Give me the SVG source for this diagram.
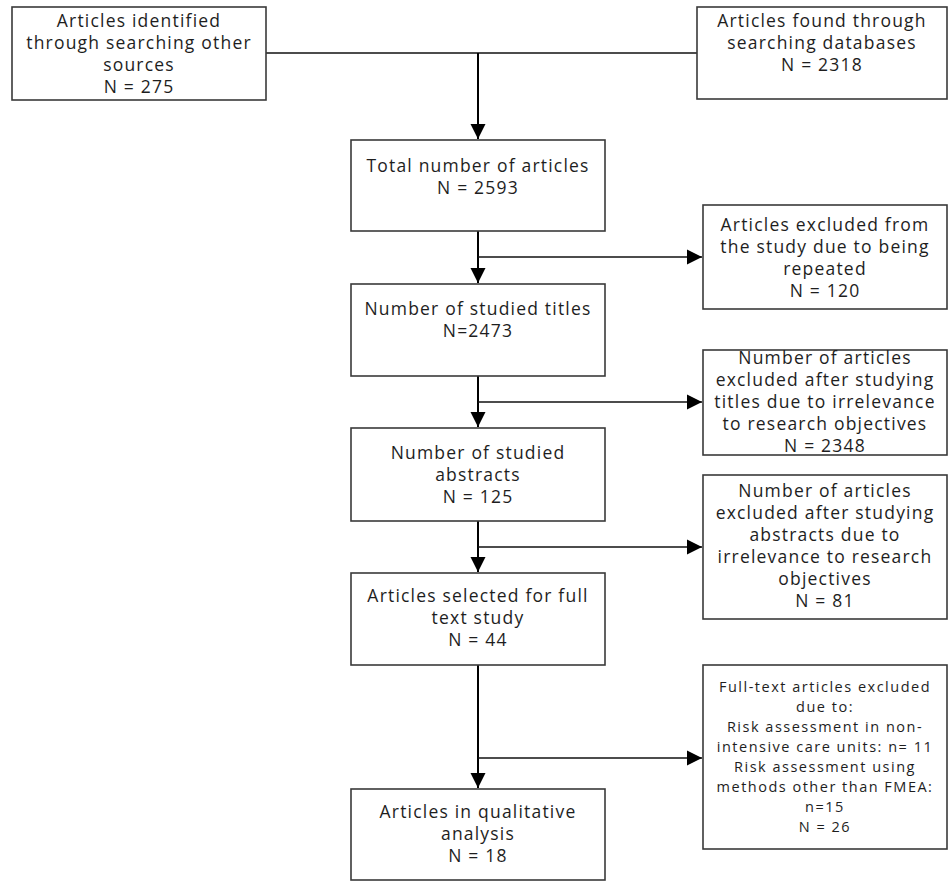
<svg xmlns="http://www.w3.org/2000/svg" width="948" height="881" viewBox="0 0 948 881">
  <defs>
    <style>
      .box { fill: #ffffff; stroke: #3a3a3a; stroke-width: 1.6; }
      .t { font-family: "Open Sans", "Liberation Sans", sans-serif; font-size: 17.5px; letter-spacing: 1.2px; fill: #1e1e1e; text-anchor: middle; }
      .ts { font-family: "Open Sans", "Liberation Sans", sans-serif; font-size: 14.5px; letter-spacing: 1.5px; fill: #1e1e1e; text-anchor: middle; }
      .v { fill: none; stroke: #000000; stroke-width: 2; }
      .h { fill: none; stroke: #111111; stroke-width: 1.6; }
    </style>
    <marker id="arr" markerUnits="userSpaceOnUse" markerWidth="16" markerHeight="16" viewBox="0 0 16 16" refX="15" refY="8" orient="auto">
      <path d="M0,0.5 L15,8 L0,15.5 Z" fill="#000000"/>
    </marker>
  </defs>
  <rect width="948" height="881" fill="#ffffff"/>

  <g id="connectors">
    <path class="h" d="M266,53 H697"/>
    <path class="v" d="M478,53 V139" marker-end="url(#arr)"/>
    <path class="v" d="M478,231 V283" marker-end="url(#arr)"/>
    <path class="h" d="M478,257 H702" marker-end="url(#arr)"/>
    <path class="v" d="M478,376 V427" marker-end="url(#arr)"/>
    <path class="h" d="M478,402 H702" marker-end="url(#arr)"/>
    <path class="v" d="M478,521 V572" marker-end="url(#arr)"/>
    <path class="h" d="M478,547 H702" marker-end="url(#arr)"/>
    <path class="v" d="M478,665 V788" marker-end="url(#arr)"/>
    <path class="h" d="M478,758 H702" marker-end="url(#arr)"/>
  </g>

  <g id="other-sources">
    <rect class="box" x="12" y="7" width="254" height="93"/>
    <text class="t" x="139" y="27">Articles identified</text>
    <text class="t" x="139" y="49">through searching other</text>
    <text class="t" x="139" y="71">sources</text>
    <text class="t" x="139" y="93">N = 275</text>
  </g>

  <g id="databases">
    <rect class="box" x="697" y="7" width="250" height="92"/>
    <text class="t" x="822" y="27">Articles found through</text>
    <text class="t" x="822" y="49">searching databases</text>
    <text class="t" x="822" y="71">N = 2318</text>
  </g>

  <g id="total">
    <rect class="box" x="351" y="140" width="254" height="91"/>
    <text class="t" x="478" y="172">Total number of articles</text>
    <text class="t" x="478" y="194">N = 2593</text>
  </g>

  <g id="titles">
    <rect class="box" x="351" y="284" width="254" height="92"/>
    <text class="t" x="478" y="315">Number of studied titles</text>
    <text class="t" x="478" y="337">N=2473</text>
  </g>

  <g id="abstracts">
    <rect class="box" x="351" y="428" width="254" height="93"/>
    <text class="t" x="478" y="459">Number of studied</text>
    <text class="t" x="478" y="481">abstracts</text>
    <text class="t" x="478" y="503">N = 125</text>
  </g>

  <g id="fulltext">
    <rect class="box" x="351" y="573" width="254" height="92"/>
    <text class="t" x="478" y="602">Articles selected for full</text>
    <text class="t" x="478" y="624">text study</text>
    <text class="t" x="478" y="646">N = 44</text>
  </g>

  <g id="qualitative">
    <rect class="box" x="351" y="789" width="254" height="91"/>
    <text class="t" x="478" y="818">Articles in qualitative</text>
    <text class="t" x="478" y="840">analysis</text>
    <text class="t" x="478" y="862">N = 18</text>
  </g>

  <g id="excluded-repeated">
    <rect class="box" x="703" y="205" width="244" height="104"/>
    <text class="t" x="825" y="231">Articles excluded from</text>
    <text class="t" x="825" y="253">the study due to being</text>
    <text class="t" x="825" y="275">repeated</text>
    <text class="t" x="825" y="297">N = 120</text>
  </g>

  <g id="excluded-titles">
    <rect class="box" x="703" y="350" width="244" height="105"/>
    <text class="t" x="825" y="364">Number of articles</text>
    <text class="t" x="825" y="386">excluded after studying</text>
    <text class="t" x="825" y="408">titles due to irrelevance</text>
    <text class="t" x="825" y="430">to research objectives</text>
    <text class="t" x="825" y="452">N = 2348</text>
  </g>

  <g id="excluded-abstracts">
    <rect class="box" x="703" y="475" width="244" height="144"/>
    <text class="t" x="825" y="497">Number of articles</text>
    <text class="t" x="825" y="519">excluded after studying</text>
    <text class="t" x="825" y="541">abstracts due to</text>
    <text class="t" x="825" y="563">irrelevance to research</text>
    <text class="t" x="825" y="585">objectives</text>
    <text class="t" x="825" y="607">N = 81</text>
  </g>

  <g id="excluded-fulltext">
    <rect class="box" x="703" y="665" width="244" height="184"/>
    <text class="ts" x="825" y="692">Full-text articles excluded</text>
    <text class="ts" x="825" y="712">due to:</text>
    <text class="ts" x="825" y="732">Risk assessment in non-</text>
    <text class="ts" x="825" y="752">intensive care units: n= 11</text>
    <text class="ts" x="825" y="772">Risk assessment using</text>
    <text class="ts" x="825" y="792">methods other than FMEA:</text>
    <text class="ts" x="825" y="812">n=15</text>
    <text class="ts" x="825" y="832">N = 26</text>
  </g>
</svg>
